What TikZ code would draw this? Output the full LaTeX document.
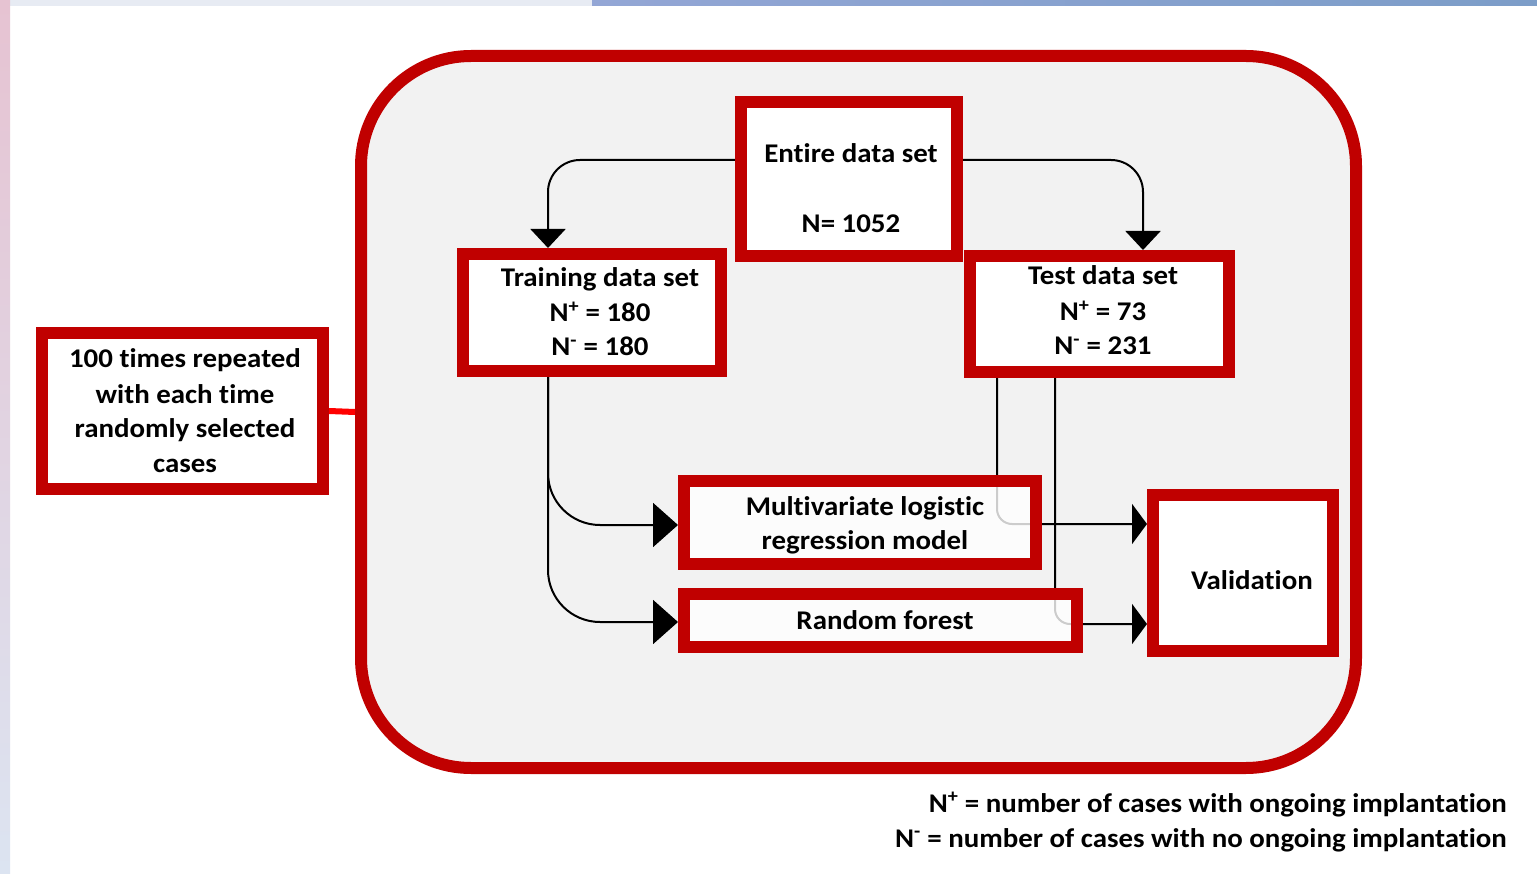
\documentclass[tikz,border=0pt]{standalone}
\usepackage{fontspec}
\setmainfont{Carlito}[FakeStretch=1.07, Ligatures=NoCommon]
\usetikzlibrary{arrows.meta,calc}
\definecolor{boxred}{HTML}{C00000}
\definecolor{panel}{HTML}{F2F2F2}
\definecolor{linkred}{HTML}{FF0000}
\definecolor{stripA}{HTML}{E7EBF3}
\definecolor{stripB}{HTML}{93A6D5}
\definecolor{stripC}{HTML}{7C9DC8}
\definecolor{stripL}{HTML}{DCE4F1}
\definecolor{stripP}{HTML}{E6C3D2}
\pgfdeclarelayer{back}
\pgfdeclarelayer{mid}
\pgfsetlayers{back,mid,main}

\begin{document}
\begin{tikzpicture}[x=1pt,y=-1pt,
  redbox/.style={draw=boxred, line width=12pt, fill=white, inner sep=0pt},
  softbox/.style={redbox, fill opacity=0.8},
  conn/.style={draw=black, line width=2pt},
  lbl/.style={font=\fontsize{27}{32}\selectfont\bfseries, anchor=base, inner sep=0pt},
  legend/.style={lbl, anchor=base east},
  downtip/.style={-{Triangle[length=19pt,width=35pt]}},
  sidetip/.style={-{Triangle[length=25pt,width=44pt]}},
  valtip/.style={-{Triangle[length=15pt,width=40pt]}}
]
% canvas and slide edges
\useasboundingbox (0,0) rectangle (1537,874);
\begin{pgfonlayer}{back}
\fill[white] (0,0) rectangle (1537,874);
\fill[stripA] (0,0) rectangle (592,6);
\shade[left color=stripB, right color=stripC] (592,0) rectangle (1537,6);
\shade[top color=stripP, bottom color=stripL] (0,0) rectangle (10,874);
% outer panel
\node[draw=boxred, fill=panel, line width=12pt, rounded corners=110pt,
      minimum width=995pt, minimum height=712pt, inner sep=0pt] (panel) at (858.5,412) {};
\end{pgfonlayer}

% boxes
\node[redbox, minimum width=281pt, minimum height=156pt] (rep) at (182.5,411) {};
\node[redbox, minimum width=216pt, minimum height=154pt] (entire) at (849,179) {};
\node[redbox, minimum width=258pt, minimum height=117pt] (train) at (592,312.5) {};
\node[redbox, minimum width=259pt, minimum height=116pt] (test) at (1099.5,314) {};
\node[softbox, minimum width=352pt, minimum height=83pt] (multi) at (860,522.5) {};
\node[softbox, minimum width=393pt, minimum height=53pt] (rf) at (880.5,620.5) {};
\node[redbox, minimum width=180pt, minimum height=156pt] (valid) at (1243,573) {};

% connectors
\begin{pgfonlayer}{mid}
\draw[linkred, line width=6pt] (rep.east) -- (panel.west);
\draw[conn, rounded corners=32pt, downtip] ($(entire.west)+(0,-19)$) -| ($(train.north)+(-44,0)$);
\draw[conn, rounded corners=32pt, downtip] ($(entire.east)+(0,-19)$) -| ($(test.north)+(43.5,0)$);
\draw[conn, rounded corners=52pt, sidetip] ($(train.south)+(-44,0)$) |- ($(multi.west)+(0,2.5)$);
\draw[conn, rounded corners=52pt, sidetip] ($(train.south)+(-44,0)$) |- ($(rf.west)+(0,1.5)$);
\draw[conn, rounded corners=15pt, valtip] ($(test.south)+(-102.5,0)$) |- ($(valid.west)+(0,-49)$);
\draw[conn, rounded corners=15pt, valtip] ($(test.south)+(-44.5,0)$) |- ($(valid.west)+(0,51)$);
\end{pgfonlayer}

% box texts
\node[lbl] (rep1) at (185,368) {100 times repeated};
\node[lbl] (rep2) at (185,403) {with each time};
\node[lbl] (rep3) at (185,438) {randomly selected};
\node[lbl] (rep4) at (185,472) {cases};
\node[lbl] (ent1) at (851,163) {Entire data set};
\node[lbl] (ent2) at (851,233) {N= 1052};
\node[lbl] (tr1) at (600,287) {Training data set};
\node[lbl] (tr2) at (600,322) {N\textsuperscript{+} = 180};
\node[lbl] (tr3) at (600,356) {N\textsuperscript{-} = 180};
\node[lbl] (te1) at (1103,285) {Test data set};
\node[lbl] (te2) at (1103,321) {N\textsuperscript{+} = 73};
\node[lbl] (te3) at (1103,355) {N\textsuperscript{-} = 231};
\node[lbl] (mu1) at (865,515) {Multivariate logistic};
\node[lbl] (mu2) at (865,549) {regression model};
\node[lbl] (rft) at (885,629) {Random forest};
\node[lbl] (vat) at (1252,589) {Validation};

% legend
\node[legend] (leg1) at (1507,812) {N\textsuperscript{+} = number of cases with ongoing implantation};
\node[legend] (leg2) at (1507,847) {N\textsuperscript{-} = number of cases with no ongoing implantation};
\end{tikzpicture}
\end{document}
